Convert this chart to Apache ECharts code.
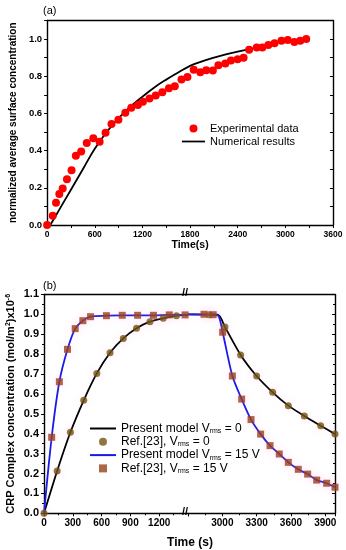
<!DOCTYPE html>
<html>
<head>
<meta charset="utf-8">
<script src="https://cdn.jsdelivr.net/npm/echarts@6/dist/echarts.min.js"></script>
<style>html,body{margin:0;padding:0;background:#fff}#c{width:346px;height:550px}</style>
</head>
<body>
<div id="c"></div>
<script>
// ---------- Panel (a) data ----------
const expTime = [0, 71, 112, 154, 196, 250, 308, 362, 429, 499, 582, 661, 736, 811, 898, 985, 1060, 1143, 1206, 1289, 1368, 1451, 1534, 1608, 1692, 1767, 1846, 1929, 2004, 2087, 2157, 2244, 2315, 2399, 2474, 2544, 2640, 2711, 2786, 2864, 2951, 3030, 3113, 3188, 3263];
const expValue = [0, 0.05, 0.12, 0.167, 0.197, 0.246, 0.294, 0.373, 0.396, 0.441, 0.466, 0.448, 0.496, 0.543, 0.566, 0.604, 0.631, 0.645, 0.663, 0.681, 0.697, 0.714, 0.735, 0.747, 0.783, 0.796, 0.835, 0.822, 0.833, 0.831, 0.859, 0.869, 0.885, 0.891, 0.899, 0.943, 0.955, 0.955, 0.968, 0.978, 0.991, 0.995, 0.984, 0.991, 1.0];
const numTime = [40, 150, 300, 450, 600, 750, 900, 1050, 1200, 1350, 1500, 1650, 1800, 1950, 2100, 2250, 2400, 2550, 2700];
const numValue = [0, 0.08, 0.19, 0.3, 0.41, 0.5, 0.575, 0.637, 0.69, 0.74, 0.782, 0.82, 0.856, 0.88, 0.9, 0.918, 0.933, 0.946, 0.957];
const aXTicks = [0, 600, 1200, 1800, 2400, 3000, 3600];
const aYTicks = [0.0, 0.2, 0.4, 0.6, 0.8, 1.0];

// ---------- Panel (b) data ----------
// model curve, V_rms = 0
const m0TimeL = [0, 137, 275, 414, 550, 688, 826, 964, 1103, 1242, 1380, 1500];
const m0ValL  = [0, 0.213, 0.407, 0.568, 0.703, 0.807, 0.879, 0.93, 0.963, 0.98, 0.993, 0.997];
const m0TimeR = [2700, 2960, 3023, 3160, 3300, 3440, 3577, 3717, 3860, 3985];
const m0ValR  = [1.0, 0.998, 0.936, 0.796, 0.69, 0.608, 0.541, 0.489, 0.44, 0.398];
// model curve, V_rms = 15 V
const m15TimeL = [0, 80, 160, 245, 325, 405, 485, 650, 815, 975, 1140, 1305, 1500];
const m15ValL  = [0, 0.382, 0.661, 0.824, 0.928, 0.968, 0.988, 0.993, 0.995, 0.995, 0.995, 0.997, 0.997];
const m15TimeR = [2700, 2920, 2968, 3003, 3088, 3169, 3251, 3335, 3417, 3498, 3577, 3664, 3746, 3825, 3912, 3985];
const m15ValR  = [1.0, 0.998, 0.99, 0.91, 0.69, 0.574, 0.471, 0.398, 0.34, 0.298, 0.256, 0.221, 0.197, 0.167, 0.151, 0.131];
// Ref.[23] points, V_rms = 0 (circles)
const r0TimeL = [0, 137, 275, 414, 550, 688, 826, 964, 1103, 1242, 1380];
const r0ValL  = [0, 0.213, 0.407, 0.568, 0.703, 0.807, 0.879, 0.93, 0.963, 0.98, 0.993];
const r0TimeR = [2885, 3023, 3160, 3300, 3440, 3577, 3717, 3860, 3985];
const r0ValR  = [0.998, 0.936, 0.796, 0.69, 0.608, 0.541, 0.489, 0.44, 0.398];
// Ref.[23] points, V_rms = 15 V (squares)
const r15TimeL = [80, 160, 245, 325, 405, 485, 650, 815, 975, 1140, 1305, 1470];
const r15ValL  = [0.382, 0.661, 0.824, 0.928, 0.968, 0.988, 0.993, 0.995, 0.995, 0.995, 0.997, 0.997];
const r15TimeR = [2840, 2920, 3003, 3088, 3169, 3251, 3335, 3417, 3498, 3577, 3664, 3746, 3825, 3912, 3985];
const r15ValR  = [1.0, 0.998, 0.91, 0.69, 0.574, 0.471, 0.398, 0.34, 0.298, 0.256, 0.221, 0.197, 0.167, 0.151, 0.131];
const bXTicksL = [0, 300, 600, 900, 1200];
const bXTicksR = [3000, 3300, 3600, 3900];

const seriesNames = {
  exp: 'Experimental data', num: 'Numerical results',
  m0: 'Present model Vrms = 0', r0: 'Ref.[23], Vrms = 0',
  m15: 'Present model Vrms = 15 V', r15: 'Ref.[23], Vrms = 15 V'
};

const FF = '"Liberation Sans", Arial, Helvetica, sans-serif';
const zip = (a, b) => a.map((x, i) => [x, b[i]]);
const BLACK = '#000';
const BLUE = '#1a1ae6';
const CIRC = '#735410';
const SQR = '#9a401c';
const AXLINE = { show: true, onZero: false, lineStyle: { color: BLACK, width: 1.4 } };
const LINE_ICON = 'path://M0,0H130V10H0Z';
const SQUARE_ICON = 'path://M0,0H10V10H0Z';

function xAx(grid, min, max, interval, ticks, fs, extra) {
  return Object.assign({
    type: 'value', gridIndex: grid, min, max, interval, position: 'bottom',
    axisLine: AXLINE,
    axisTick: { show: true, length: 3, lineStyle: { color: BLACK, width: 1 } },
    axisLabel: {
      color: BLACK, fontFamily: FF, fontWeight: 'bold', fontSize: fs, margin: 5,
      formatter: v => ticks.some(t => Math.abs(t - v) < 1e-6) ? String(v) : ''
    },
    splitLine: { show: false }
  }, extra || {});
}
function frameX(grid, min, max) {
  return { type: 'value', gridIndex: grid, min, max, position: 'top',
    axisLine: AXLINE, axisTick: { show: false }, axisLabel: { show: false }, splitLine: { show: false } };
}

const mkShadow = { shadowBlur: 8, shadowColor: 'rgba(255,150,235,0.4)' };

const option = {
  animation: false,
  backgroundColor: '#fff',
  textStyle: { fontFamily: FF },
  title: [
    { text: '(a)', left: 38, top: 0, textStyle: { fontSize: 11, fontWeight: 'normal', color: BLACK, fontFamily: FF } },
    { text: '(b)', left: 38, top: 275, textStyle: { fontSize: 11, fontWeight: 'normal', color: BLACK, fontFamily: FF } }
  ],
  grid: [
    { left: 44, top: 20.5, width: 289, height: 204.5 },
    { left: 44, top: 294.4, width: 144, height: 218.9 },
    { left: 188, top: 294.4, width: 147, height: 218.9 }
  ],
  xAxis: [
    xAx(0, 0, 3600, 300, aXTicks, 8.5, {
      name: 'Time(s)', nameLocation: 'middle', nameGap: 15,
      nameTextStyle: { fontFamily: FF, fontWeight: 'bold', fontSize: 10.5, color: BLACK }
    }),
    frameX(0, 0, 3600),
    xAx(1, 0, 1500, 300, bXTicksL, 10, { minorTick: { show: true, splitNumber: 2, length: 2, lineStyle: { color: BLACK } } }),
    frameX(1, 0, 1500),
    xAx(2, 2700, 3985, 300, bXTicksR, 10, { minorTick: { show: true, splitNumber: 2, length: 2, lineStyle: { color: BLACK } } }),
    frameX(2, 2700, 3985)
  ],
  yAxis: [
    {
      type: 'value', gridIndex: 0, min: 0, max: 1.1, interval: 0.1, position: 'left',
      axisLine: AXLINE,
      axisTick: { show: true, length: 3, lineStyle: { color: BLACK } },
      axisLabel: {
        color: BLACK, fontFamily: FF, fontWeight: 'bold', fontSize: 9.5, margin: 5,
        formatter: v => aYTicks.some(t => Math.abs(t - v) < 1e-6) ? v.toFixed(1) : ''
      },
      splitLine: { show: false },
      name: 'normalized average surface concentration', nameLocation: 'middle', nameGap: 21,
      nameTextStyle: { fontFamily: FF, fontWeight: 'bold', fontSize: 10, color: BLACK }
    },
    {
      type: 'value', gridIndex: 0, min: 0, max: 1.1, interval: 0.1, position: 'right',
      axisLine: AXLINE,
      axisTick: { show: true, inside: true, length: 3, lineStyle: { color: BLACK } },
      axisLabel: { show: false }, splitLine: { show: false }
    },
    {
      type: 'value', gridIndex: 1, min: 0, max: 1.1, interval: 0.1, position: 'left',
      axisLine: AXLINE,
      axisTick: { show: true, length: 3, lineStyle: { color: BLACK } },
      minorTick: { show: true, splitNumber: 2, length: 2, lineStyle: { color: BLACK } },
      axisLabel: { color: BLACK, fontFamily: FF, fontWeight: 'bold', fontSize: 11, margin: 5,
        formatter: v => v.toFixed(1) },
      splitLine: { show: false },
      name: '{b|CRP Complex concentration (mol/m}{s|2}{b|)x10}{s|-6}',
      nameLocation: 'middle', nameGap: 27,
      nameTextStyle: {
        color: BLACK,
        rich: {
          b: { fontFamily: FF, fontWeight: 'bold', fontSize: 11, color: BLACK },
          s: { fontFamily: FF, fontWeight: 'bold', fontSize: 7, color: BLACK, verticalAlign: 'top', padding: [0, 0, 5, 0] }
        }
      }
    },
    {
      type: 'value', gridIndex: 2, min: 0, max: 1.1, interval: 0.1, position: 'left',
      axisLine: { show: false }, axisTick: { show: false }, axisLabel: { show: false }, splitLine: { show: false }
    },
    {
      type: 'value', gridIndex: 2, min: 0, max: 1.1, interval: 0.1, position: 'right',
      axisLine: AXLINE,
      axisTick: { show: true, inside: true, length: 3, lineStyle: { color: BLACK } },
      minorTick: { show: true, splitNumber: 2, length: 2, lineStyle: { color: BLACK } },
      axisLabel: { show: false }, splitLine: { show: false }
    }
  ],
  legend: [
    {
      data: [
        { name: seriesNames.exp, icon: 'circle' },
        { name: seriesNames.num, icon: LINE_ICON, itemStyle: { color: BLACK } }
      ],
      orient: 'vertical', left: 177, top: 118, symbolKeepAspect: true,
      itemWidth: 23, itemHeight: 8, itemGap: 2,
      textStyle: { fontFamily: FF, fontSize: 11, color: BLACK, lineHeight: 11 }
    },
    {
      data: [
        { name: seriesNames.m0, icon: LINE_ICON, itemStyle: { color: BLACK } },
        { name: seriesNames.r0, icon: 'circle' },
        { name: seriesNames.m15, icon: LINE_ICON, itemStyle: { color: BLUE } },
        { name: seriesNames.r15, icon: SQUARE_ICON }
      ],
      orient: 'vertical', left: 85, top: 417.5, symbolKeepAspect: true,
      itemWidth: 26, itemHeight: 8, itemGap: 1.3,
      formatter: name => {
        const i = name.indexOf('Vrms');
        return '{t|' + name.slice(0, i) + 'V}{s|rms}{t|' + name.slice(i + 4) + '}';
      },
      textStyle: {
        fontFamily: FF, fontSize: 12, color: BLACK, lineHeight: 12,
        rich: {
          t: { fontFamily: FF, fontSize: 12, color: BLACK, lineHeight: 12 },
          s: { fontFamily: FF, fontSize: 7, color: BLACK, verticalAlign: 'bottom', lineHeight: 12, padding: [3, 0, 0, 0] }
        }
      }
    }
  ],
  graphic: [
    { type: 'text', left: 182, top: 287, style: { text: '//', font: 'bold 11px ' + FF, fill: BLACK } },
    { type: 'text', left: 182, top: 506, style: { text: '//', font: 'bold 11px ' + FF, fill: BLACK } },
    { type: 'text', x: 190, y: 543, style: { text: 'Time (s)', font: 'bold 12px ' + FF, fill: BLACK, align: 'center', verticalAlign: 'middle' } }
  ],
  series: [
    { name: seriesNames.num, type: 'line', xAxisIndex: 0, yAxisIndex: 0, data: zip(numTime, numValue),
      smooth: 0.4, symbol: 'none', lineStyle: { color: BLACK, width: 1.8 }, itemStyle: { color: BLACK }, z: 2 },
    { name: seriesNames.exp, type: 'scatter', xAxisIndex: 0, yAxisIndex: 0, data: zip(expTime, expValue),
      symbol: 'circle', symbolSize: 8, itemStyle: { color: '#ff0000', opacity: 1 }, z: 3 },

    // left segment panel (b)
    { name: seriesNames.m0, type: 'line', xAxisIndex: 2, yAxisIndex: 2, data: zip(m0TimeL, m0ValL),
      smooth: 0.3, symbol: 'none', lineStyle: { color: BLACK, width: 1.8 }, itemStyle: { color: BLACK }, z: 2 },
    { name: seriesNames.m15, type: 'line', xAxisIndex: 2, yAxisIndex: 2, data: zip(m15TimeL, m15ValL),
      smooth: 0.3, symbol: 'none', lineStyle: { color: BLUE, width: 1.8 }, itemStyle: { color: BLUE }, z: 2 },
    { name: seriesNames.r0, type: 'scatter', xAxisIndex: 2, yAxisIndex: 2, data: zip(r0TimeL, r0ValL),
      symbol: 'circle', symbolSize: 7, itemStyle: Object.assign({ color: CIRC }, mkShadow), z: 3 },
    { name: seriesNames.r15, type: 'scatter', xAxisIndex: 2, yAxisIndex: 2, data: zip(r15TimeL, r15ValL),
      symbol: 'rect', symbolSize: 7, itemStyle: Object.assign({ color: SQR }, mkShadow), z: 3 },

    // right segment panel (b)
    { name: seriesNames.m0, type: 'line', xAxisIndex: 4, yAxisIndex: 3, data: zip(m0TimeR, m0ValR),
      smooth: 0.25, symbol: 'none', lineStyle: { color: BLACK, width: 1.8 }, itemStyle: { color: BLACK }, z: 2 },
    { name: seriesNames.m15, type: 'line', xAxisIndex: 4, yAxisIndex: 3, data: zip(m15TimeR, m15ValR),
      smooth: 0.25, symbol: 'none', lineStyle: { color: BLUE, width: 1.8 }, itemStyle: { color: BLUE }, z: 2 },
    { name: seriesNames.r0, type: 'scatter', xAxisIndex: 4, yAxisIndex: 3, data: zip(r0TimeR, r0ValR),
      symbol: 'circle', symbolSize: 7, itemStyle: Object.assign({ color: CIRC }, mkShadow), z: 3 },
    { name: seriesNames.r15, type: 'scatter', xAxisIndex: 4, yAxisIndex: 3, data: zip(r15TimeR, r15ValR),
      symbol: 'rect', symbolSize: 7, itemStyle: Object.assign({ color: SQR }, mkShadow), z: 3 }
  ]
};

const chart = echarts.init(document.getElementById('c'), null, { renderer: 'canvas' });
chart.setOption(option);
</script>
</body>
</html>
